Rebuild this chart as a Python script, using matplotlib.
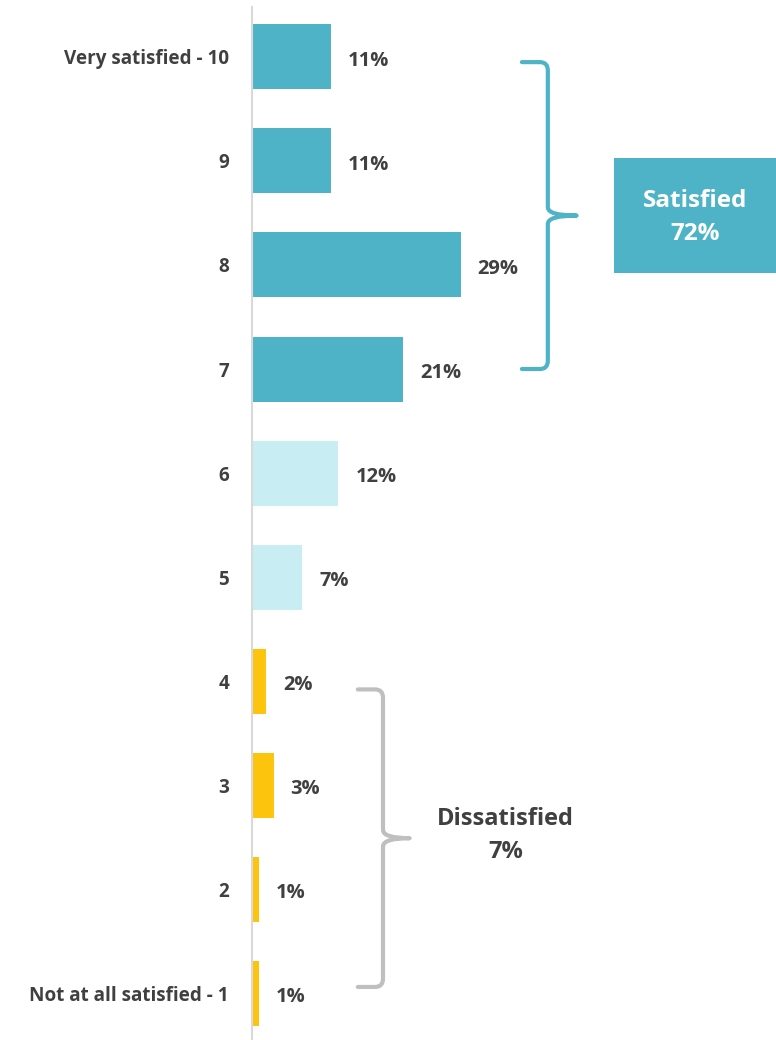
import matplotlib
matplotlib.use("Agg")
import matplotlib.pyplot as plt
from matplotlib.patches import Rectangle, PathPatch
from matplotlib.path import Path

plt.rcParams['font.family'] = ['Open Sans', 'DejaVu Sans']

categories = ["Very satisfied - 10", "9", "8", "7", "6", "5", "4", "3", "2",
              "Not at all satisfied - 1"]
values = [11, 11, 29, 21, 12, 7, 2, 3, 1, 1]
groups = ["sat", "sat", "sat", "sat", "neu", "neu", "dis", "dis", "dis", "dis"]
satisfied_total = 72
dissatisfied_total = 7

TEAL = "#4FB3C8"
LIGHT = "#C8EEF3"
YELLOW = "#FDC40E"
GREY_TXT = "#404040"
BRACE_GREY = "#BFBFBF"
colors = {"sat": TEAL, "neu": LIGHT, "dis": YELLOW}

W, H = 776, 1040
fig = plt.figure(figsize=(W / 100, H / 100), dpi=100)
ax = fig.add_axes([252 / W, 0, 1 - 252 / W, 1 - 7 / H])

ypos = list(range(len(categories)))
ax.barh(ypos, values, height=0.625, color=[colors[g] for g in groups], zorder=2)
ax.set_xlim(0, 72.8)
ax.set_ylim(9.45, -0.48)

for y, v in zip(ypos, values):
    ax.text(v + 2.35, y + 0.035, f"{v}%", va="center", ha="left", fontsize=14.5,
            fontweight="bold", color=GREY_TXT)

ax.set_yticks(ypos)
ax.set_yticklabels(categories, fontsize=13.6, fontweight="bold", color=GREY_TXT)
ax.tick_params(axis="y", length=0, pad=16.5)
ax.set_xticks([])
for s in ["top", "right", "bottom"]:
    ax.spines[s].set_visible(False)
ax.spines["left"].set_color("#D9D9D9")
ax.spines["left"].set_linewidth(1.5)


def brace(x0, x1, x2, ytop, ybot, color):
    ymid = (ytop + ybot) / 2
    rx, ry = 1.1, 0.08
    verts = [
        (x0, ytop), (x1 - rx, ytop),
        (x1, ytop), (x1, ytop + ry),
        (x1, ymid - ry),
        (x1, ymid), (x2, ymid),
        (x1, ymid), (x1, ymid + ry),
        (x1, ybot - ry),
        (x1, ybot), (x1 - rx, ybot),
        (x0, ybot),
    ]
    codes = [Path.MOVETO, Path.LINETO,
             Path.CURVE3, Path.CURVE3,
             Path.LINETO,
             Path.CURVE3, Path.CURVE3,
             Path.CURVE3, Path.CURVE3,
             Path.LINETO,
             Path.CURVE3, Path.CURVE3,
             Path.LINETO]
    ax.add_patch(PathPatch(Path(verts, codes), facecolor="none", edgecolor=color,
                           linewidth=3, clip_on=False, capstyle="round",
                           joinstyle="round"))
    return ymid


brace(37.5, 41.1, 45.1, 0.05, 3.0, TEAL)
brace(14.7, 18.2, 21.9, 6.08, 8.94, BRACE_GREY)

ax.add_patch(Rectangle((50.3, 0.97), 72.8 - 50.3, 2.08 - 0.97, facecolor=TEAL,
                       edgecolor="none", clip_on=False))
ax.text((50.3 + 72.8) / 2, 1.54, f"Satisfied\n{satisfied_total}%", ha="center",
        va="center", color="white", fontsize=17.5, fontweight="bold",
        linespacing=1.5)
ax.text(35.2, 7.48, f"Dissatisfied\n{dissatisfied_total}%", ha="center",
        va="center", color=GREY_TXT, fontsize=17, fontweight="bold",
        linespacing=1.5)

fig.savefig("out.png", dpi=100, facecolor="white")
